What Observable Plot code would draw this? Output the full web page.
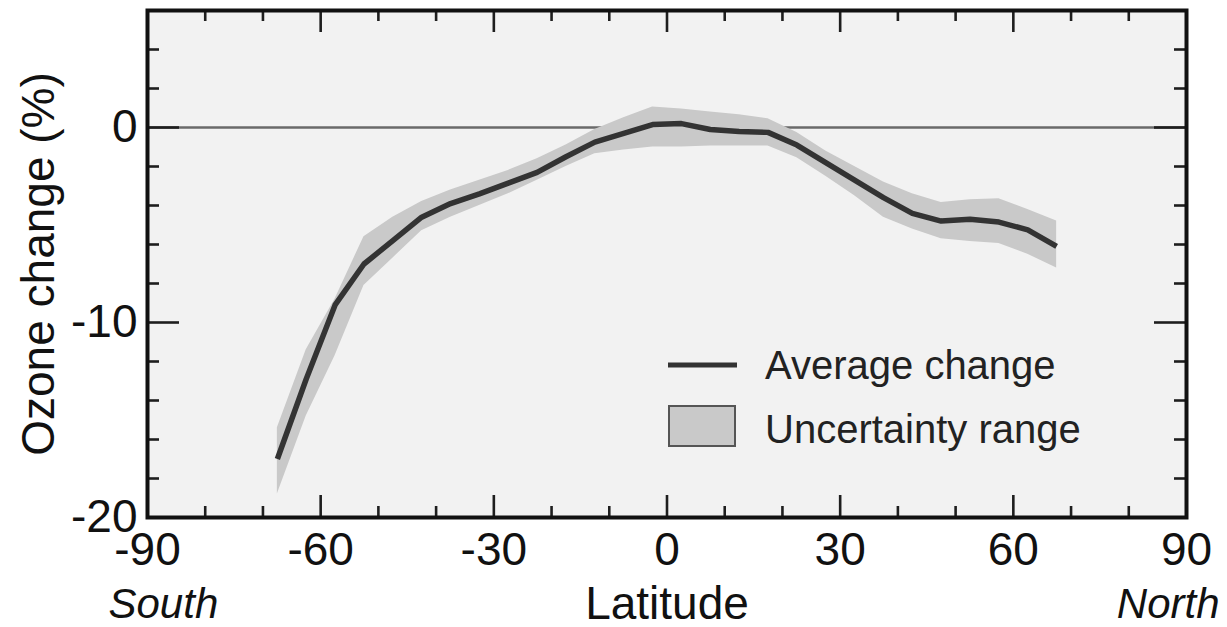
<!DOCTYPE html>
<html><head><meta charset="utf-8">
<script src="https://cdn.jsdelivr.net/npm/d3@7"></script>
<script src="https://cdn.jsdelivr.net/npm/@observablehq/plot@0.6"></script>
<style>
html,body{margin:0;padding:0;background:#fff;}
#chart{position:relative;width:1227px;height:627px;overflow:hidden;}
#chart svg{display:block;}
</style></head><body><div id="chart"></div>
<script>
// ---- data ----
const latitude      = [-67.5,-62.5,-57.5,-52.5,-47.5,-42.5,-37.5,-32.5,-27.5,-22.5,-17.5,-12.5,-7.5,-2.5,2.5,7.5,12.5,17.5,22.5,27.5,32.5,37.5,42.5,47.5,52.5,57.5,62.5,67.5];
const averageChange = [-17.0,-12.9,-9.1,-7.0,-5.8,-4.6,-3.9,-3.4,-2.85,-2.3,-1.5,-0.75,-0.3,0.15,0.2,-0.1,-0.2,-0.25,-0.9,-1.8,-2.7,-3.6,-4.4,-4.8,-4.7,-4.85,-5.25,-6.1];
const upperBound    = [-15.4,-11.4,-8.8,-5.6,-4.6,-3.8,-3.2,-2.7,-2.2,-1.6,-0.9,-0.1,0.5,1.05,0.95,0.8,0.65,0.45,-0.25,-1.2,-2.0,-2.8,-3.4,-3.85,-3.7,-3.65,-4.2,-4.8];
const lowerBound    = [-18.8,-14.8,-11.7,-8.1,-6.7,-5.3,-4.6,-4.0,-3.4,-2.7,-2.0,-1.35,-1.15,-1.0,-1.0,-0.95,-0.95,-0.95,-1.55,-2.5,-3.5,-4.6,-5.2,-5.7,-5.85,-5.95,-6.5,-7.2];

const xTicksMajor = [-90,-60,-30,0,30,60,90];
const xTicksMinor = [-80,-70,-50,-40,-20,-10,10,20,40,50,70,80];
const yTicksMajor = [-20,-10,0];
const yTicksMinor = [-18,-16,-14,-12,-8,-6,-4,-2,2,4];
const xDomain = [-90,90];
const yDomain = [-20,6];

const xTitle = "Latitude";
const yTitle = "Ozone change (%)";
const southLabel = "South";
const northLabel = "North";
const legendLabels = ["Average change","Uncertainty range"];

// ---- table ----
const rows = latitude.map((lat,i)=>({lat, avg: averageChange[i], hi: upperBound[i], lo: lowerBound[i]}));

// ---- layout ----
const W = 1227, H = 627;
const mL = 147, mR = 41, mT = 10, mB = 110;
const innerW = W - mL - mR, innerH = H - mT - mB;
const xMajorLen = 22, xMinorLen = 11, yMajorLen = 32, yMinorLen = 12;
const tickColor = "#1e1e1e", tickW = 2.6;
const font = "'Liberation Sans', Arial, Helvetica, sans-serif";

const chart = Plot.plot({
  width: W, height: H,
  marginLeft: mL, marginRight: mR, marginTop: mT, marginBottom: mB,
  style: {fontFamily: font, background: "transparent", color: "#111", overflow: "visible"},
  x: {domain: xDomain},
  y: {domain: yDomain},
  marks: [
    Plot.frame({fill: "#f2f2f2", stroke: "none"}),
    Plot.ruleY([0], {stroke: "#6a6a6a", strokeWidth: 2.5}),
    Plot.areaY(rows, {x: "lat", y1: "lo", y2: "hi", fill: "#c9c9c9", curve: "linear"}),
    Plot.line(rows, {x: "lat", y: "avg", stroke: "#333333", strokeWidth: 5.5, strokeLinejoin: "round", strokeLinecap: "butt"}),
    // inward ticks: bottom
    Plot.ruleX(xTicksMajor, {stroke: tickColor, strokeWidth: tickW, insetTop: innerH - xMajorLen}),
    Plot.ruleX(xTicksMinor, {stroke: tickColor, strokeWidth: tickW, insetTop: innerH - xMinorLen}),
    // top
    Plot.ruleX(xTicksMajor, {stroke: tickColor, strokeWidth: tickW, insetBottom: innerH - xMajorLen}),
    Plot.ruleX(xTicksMinor, {stroke: tickColor, strokeWidth: tickW, insetBottom: innerH - xMinorLen}),
    // left
    Plot.ruleY(yTicksMajor, {stroke: tickColor, strokeWidth: tickW, insetRight: innerW - yMajorLen}),
    Plot.ruleY(yTicksMinor, {stroke: tickColor, strokeWidth: tickW, insetRight: innerW - yMinorLen}),
    // right
    Plot.ruleY(yTicksMajor, {stroke: tickColor, strokeWidth: tickW, insetLeft: innerW - yMajorLen}),
    Plot.ruleY(yTicksMinor, {stroke: tickColor, strokeWidth: tickW, insetLeft: innerW - yMinorLen}),
    Plot.frame({stroke: "#111", strokeWidth: 4}),
    // axes (labels only)
    Plot.axisX({anchor: "bottom", ticks: xTicksMajor, tickSize: 0, tickPadding: 15, fontSize: 46,
      tickFormat: d => String(d), label: xTitle, labelAnchor: "center", labelOffset: 101, labelArrow: "none"}),
    Plot.axisY({anchor: "left", ticks: yTicksMajor, tickSize: 0, tickPadding: 10, fontSize: 46,
      tickFormat: d => String(d), label: yTitle, labelAnchor: "center", labelOffset: 126, labelArrow: "none"}),
    Plot.text([southLabel], {frameAnchor: "bottom-left", textAnchor: "start", dx: -39, dy: 100,
      fontSize: 42, fontStyle: "italic", fill: "#111"}),
    Plot.text([northLabel], {frameAnchor: "bottom-right", textAnchor: "end", dx: 33, dy: 100,
      fontSize: 42, fontStyle: "italic", fill: "#111"})
  ]
});

document.getElementById("chart").appendChild(chart);

// ---- legend inside the plot ----
const svg = d3.select(chart);
const lg = svg.append("g").attr("font-family", font).attr("font-size", 40).attr("fill", "#222")
  .attr("text-anchor", "start");
lg.append("line").attr("x1", 668).attr("x2", 737).attr("y1", 365).attr("y2", 365)
  .attr("stroke", "#333333").attr("stroke-width", 5);
lg.append("rect").attr("x", 669).attr("y", 406).attr("width", 66).attr("height", 40)
  .attr("fill", "#c9c9c9").attr("stroke", "#555").attr("stroke-width", 2);
lg.append("text").attr("x", 765).attr("y", 379).attr("text-anchor", "start").text(legendLabels[0]);
lg.append("text").attr("x", 765).attr("y", 443).attr("text-anchor", "start").text(legendLabels[1]);
</script>
</body></html>
